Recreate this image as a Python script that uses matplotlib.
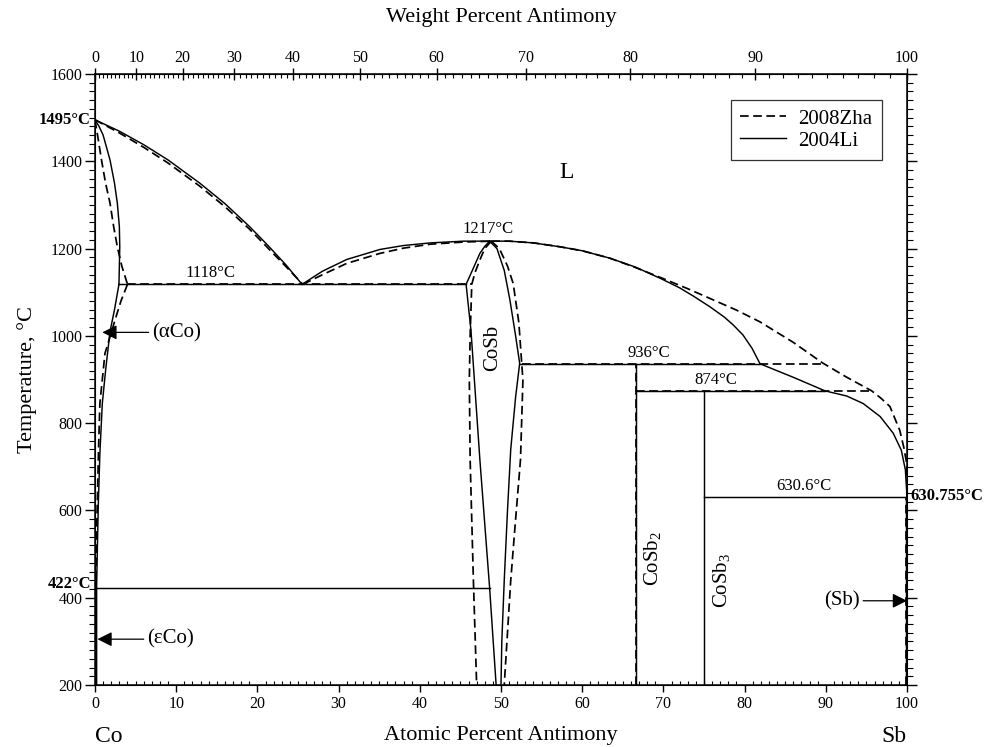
import matplotlib
matplotlib.use("Agg")
import matplotlib.pyplot as plt

plt.rcParams['font.family'] = ['Liberation Serif', 'DejaVu Serif']
plt.rcParams['mathtext.fontset'] = 'custom'
plt.rcParams['mathtext.rm'] = 'Liberation Serif'

# ---- 2004Li (solid) boundaries: (at.% Sb, T in C) ----
li_liq_co_x = [0, 3, 6, 9, 12.9, 16, 19, 21.1, 23.5, 25.5]
li_liq_co_t = [1495, 1469, 1438, 1403, 1350, 1303, 1251, 1211, 1163, 1118]
li_sol_co_x = [0, 0.5, 1.0, 1.85, 2.4, 2.75, 3.0, 3.05, 3.0, 2.95]
li_sol_co_t = [1495, 1480, 1460, 1403, 1350, 1304, 1250, 1204, 1160, 1118]
li_solv_co_x = [2.95, 2.4, 1.85, 1.3, 0.9, 0.6, 0.41, 0.3, 0.2, 0.2]
li_solv_co_t = [1118, 1060, 1010, 920, 845, 730, 616, 520, 425, 200]
li_liq_mid_x = [25.5, 28, 31, 35.1, 38, 41.3, 45.4, 48.6]
li_liq_mid_t = [1118, 1148, 1175, 1198, 1207, 1213, 1217, 1217]
li_cosb_l_x = [48.6, 48.0, 47.4, 46.4, 45.7, 46.3, 47.4, 48.6, 49.4]
li_cosb_l_t = [1217, 1205, 1189, 1147, 1118, 1013, 716, 422, 200]
li_cosb_r_x = [48.6, 49.5, 50.4, 51.1, 51.8, 52.3, 51.8, 51.2, 50.8, 50.4, 50.1, 50.0]
li_cosb_r_t = [1217, 1200, 1150, 1082, 1000, 937, 860, 740, 600, 440, 300, 200]
li_liq_sb_x = [48.6, 51, 54, 57.3, 60, 63.4, 66.5, 69.6, 72, 73.7, 75.7, 77.5,
               78.6, 79.8, 80.9, 81.9, 86, 89.9, 92.6, 94.6, 96.7, 98.3, 99.3,
               99.8, 100]
li_liq_sb_t = [1217, 1217, 1213, 1204, 1195, 1178, 1158, 1132, 1110, 1091, 1067,
               1043, 1025, 1002, 972, 936, 905, 874, 862, 845, 815, 777, 738,
               693, 631]

# ---- 2008Zha (dashed) boundaries ----
zha_liq_co_x = [0, 3, 6, 9, 12.9, 16, 19, 21.1, 23.5, 25.6]
zha_liq_co_t = [1495, 1465, 1432, 1396, 1343, 1296, 1245, 1205, 1159, 1118]
zha_sol_co_x = [0, 0.4, 0.8, 1.3, 1.85, 2.3, 2.75, 3.3, 4.0]
zha_sol_co_t = [1495, 1450, 1403, 1350, 1304, 1250, 1204, 1160, 1118]
zha_solv_co_x = [4.0, 3.2, 2.46, 1.8, 1.23, 0.9, 0.6, 0.45, 0.33, 0.2, 0.1, 0.1]
zha_solv_co_t = [1118, 1080, 1036, 995, 960, 900, 845, 750, 654, 550, 422, 200]
zha_liq_mid_x = [25.6, 28, 31, 35.1, 38, 41.3, 45.4, 48.8]
zha_liq_mid_t = [1118, 1140, 1166, 1189, 1201, 1210, 1215, 1217]
zha_cosb_l_x = [48.8, 48.0, 47.4, 46.8, 46.4, 46.2, 46.1, 46.2, 46.6, 47.0]
zha_cosb_l_t = [1217, 1200, 1174, 1145, 1118, 1000, 899, 716, 440, 200]
zha_cosb_r_x = [48.8, 49.8, 50.8, 51.5, 52.2, 52.55, 52.7, 52.4, 51.8, 51.2, 50.4]
zha_cosb_r_t = [1217, 1200, 1160, 1120, 1030, 937, 899, 716, 580, 440, 200]
zha_liq_sb_x = [48.8, 51, 54, 57.3, 60, 63.4, 66.5, 70.0, 73, 75.7, 79, 81.9, 86,
                89.6, 92.5, 95.65, 96.8, 97.9, 99.1, 99.6, 99.96, 100]
zha_liq_sb_t = [1217, 1217, 1213, 1204, 1195, 1178, 1157, 1131, 1108, 1086, 1059,
                1032, 985, 938, 906, 874, 857, 838, 784, 745, 708, 631]

# invariant lines: (x_start, x_end, T)
li_horiz = [(2.95, 45.7, 1118), (52.3, 81.9, 936), (66.67, 89.9, 874),
            (75, 100, 630.6), (0, 48.6, 422)]
zha_horiz = [(4.0, 46.4, 1118), (52.55, 89.6, 936), (66.67, 95.65, 874)]
# compound lines: (x, T_bottom, T_top)
li_vert = [(66.67, 200, 936), (75, 200, 874), (99.9, 200, 631)]
zha_vert = [(66.67, 200, 936), (99.85, 200, 631)]

wt_ticks = list(range(0, 101, 10))
M_CO, M_SB = 58.933, 121.76


def wt_to_at(w):
    if w >= 100:
        return 100.0
    a = w / M_SB
    b = (100 - w) / M_CO
    return 100 * a / (a + b)


fig = plt.figure(figsize=(10.03, 7.47), dpi=100)
ax = fig.add_axes([95 / 1003, 62 / 747, 812 / 1003, 611 / 747])

solid = dict(color='black', lw=1.05)
dash = dict(color='black', lw=1.25, dashes=(5, 2.6))

for xs, ts in [(li_liq_co_x, li_liq_co_t), (li_sol_co_x, li_sol_co_t),
               (li_solv_co_x, li_solv_co_t), (li_liq_mid_x, li_liq_mid_t),
               (li_cosb_l_x, li_cosb_l_t), (li_cosb_r_x, li_cosb_r_t),
               (li_liq_sb_x, li_liq_sb_t)]:
    ax.plot(xs, ts, **solid)
for x0, x1, t in li_horiz:
    ax.plot([x0, x1], [t, t], **solid)
for x, t0, t1 in li_vert:
    ax.plot([x, x], [t0, t1], **solid)

for xs, ts in [(zha_liq_co_x, zha_liq_co_t), (zha_sol_co_x, zha_sol_co_t),
               (zha_solv_co_x, zha_solv_co_t), (zha_liq_mid_x, zha_liq_mid_t),
               (zha_cosb_l_x, zha_cosb_l_t), (zha_cosb_r_x, zha_cosb_r_t),
               (zha_liq_sb_x, zha_liq_sb_t)]:
    ax.plot(xs, ts, **dash)
for x0, x1, t in zha_horiz:
    ax.plot([x0, x1], [t, t], **dash)
for x, t0, t1 in zha_vert:
    ax.plot([x, x], [t0, t1], **dash)

ax.set_xlim(0, 100)
ax.set_ylim(200, 1600)
ax.set_xticks(range(0, 101, 10))
ax.set_xticks(range(0, 101, 1), minor=True)
ax.set_yticks(range(200, 1601, 200))
ax.set_yticks(range(200, 1601, 20), minor=True)
ax.tick_params(axis='x', which='major', direction='out', length=5, width=1, labelsize=11.5, pad=3)
ax.tick_params(axis='x', which='minor', direction='in', length=3, width=0.8)
ax.tick_params(axis='y', which='major', direction='out', length=7, width=1, labelsize=11.5,
               right=True, pad=2)
ax.tick_params(axis='y', which='minor', direction='out', length=4, width=0.8, right=True)
for s in ax.spines.values():
    s.set_linewidth(1.1)

# top weight percent axis
ax2 = ax.twiny()
ax2.set_xlim(0, 100)
ax2.set_xticks([wt_to_at(w) for w in wt_ticks])
ax2.set_xticklabels([str(w) for w in wt_ticks])
ax2.set_xticks([wt_to_at(w) for w in range(1, 100)], minor=True)
ax2.tick_params(axis='x', which='major', direction='inout', length=9, width=1, labelsize=11.5, pad=1)
ax2.tick_params(axis='x', which='minor', direction='in', length=3, width=0.8)

# axis titles
ax.text(0.5, 1.092, 'Weight Percent Antimony', transform=ax.transAxes, ha='center', va='center', fontsize=16)
ax.text(0.5, -0.082, 'Atomic Percent Antimony', transform=ax.transAxes, ha='center', va='center', fontsize=16)
ax.text(-0.084, 0.5, 'Temperature, °C', transform=ax.transAxes, ha='center', va='center',
        rotation=90, fontsize=16)
ax.text(0.0, -0.085, 'Co', transform=ax.transAxes, ha='left', va='center', fontsize=17)
ax.text(1.0, -0.085, 'Sb', transform=ax.transAxes, ha='right', va='center', fontsize=17)

# temperature labels
ax.text(-0.5, 1495, '1495°C', ha='right', va='center', fontsize=12, fontweight='bold')
ax.text(-0.5, 432, '422°C', ha='right', va='center', fontsize=12, fontweight='bold')
ax.text(100.4, 633, '630.755°C', ha='left', va='center', fontsize=12, fontweight='bold')
ax.text(14.2, 1143, '1118°C', ha='center', va='center', fontsize=12)
ax.text(48.4, 1245, '1217°C', ha='center', va='center', fontsize=12)
ax.text(68.2, 961, '936°C', ha='center', va='center', fontsize=12)
ax.text(76.4, 899, '874°C', ha='center', va='center', fontsize=12)
ax.text(87.3, 656, '630.6°C', ha='center', va='center', fontsize=12)

# phase labels
ax.text(58.1, 1375, 'L', ha='center', va='center', fontsize=17)
ax.text(49.0, 972, 'CoSb', ha='center', va='center', rotation=90, fontsize=15)
ax.text(68.8, 490, 'CoSb$_2$', ha='center', va='center', rotation=90, fontsize=15)
ax.text(77.2, 440, 'CoSb$_3$', ha='center', va='center', rotation=90, fontsize=15)

arrow = dict(arrowstyle='-|>', color='black', lw=0.9, mutation_scale=22, shrinkA=0, shrinkB=0)
ax.annotate('', xy=(0.9, 1008), xytext=(6.6, 1008), arrowprops=arrow)
ax.text(7.0, 1008, '(αCo)', ha='left', va='center', fontsize=15)
ax.annotate('', xy=(0.3, 305), xytext=(6.0, 305), arrowprops=arrow)
ax.text(6.4, 305, '(εCo)', ha='left', va='center', fontsize=15)
ax.annotate('', xy=(100, 393), xytext=(94.6, 393), arrowprops=arrow)
ax.text(94.2, 393, '(Sb)', ha='right', va='center', fontsize=15)

# legend
ax.plot([], [], label='2008Zha', **dash)
ax.plot([], [], label='2004Li', **solid)
leg = ax.legend(loc='upper right', bbox_to_anchor=(0.969, 0.958), fontsize=15, frameon=True,
                fancybox=False, edgecolor='black', handlelength=2.2, borderpad=0.45,
                labelspacing=0.12, handletextpad=0.6, borderaxespad=0)
leg.get_frame().set_linewidth(0.9)

fig.savefig('out.png', dpi=100)
